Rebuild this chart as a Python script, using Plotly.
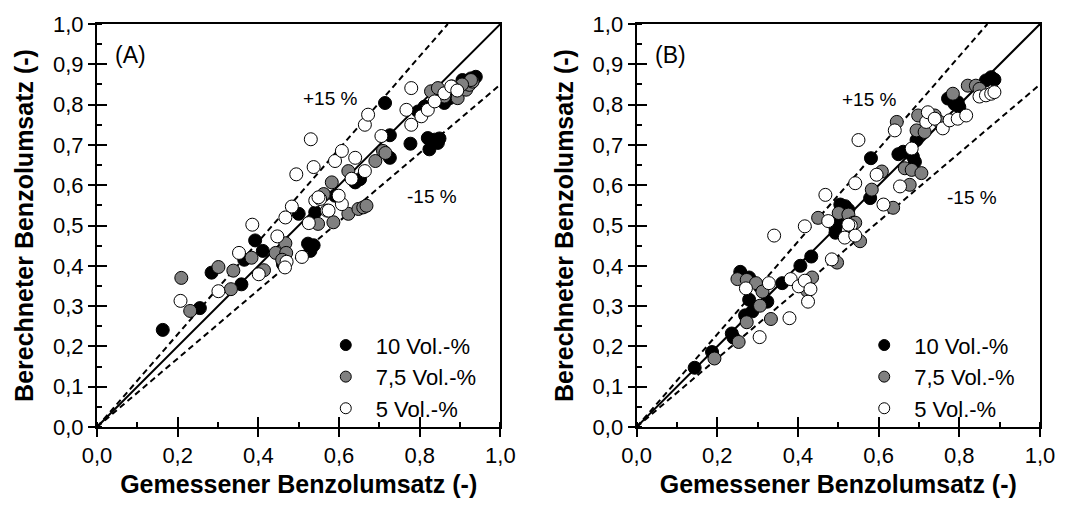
import plotly.graph_objects as go

# ---------------- data ----------------
# Panel A
a10_x = [0.163, 0.255, 0.284, 0.358, 0.365, 0.392, 0.411, 0.461, 0.500, 0.523, 0.537, 0.529, 0.541,
         0.590, 0.640, 0.652, 0.714, 0.726, 0.726, 0.777, 0.796, 0.812, 0.820, 0.837, 0.849, 0.845,
         0.824, 0.861, 0.874, 0.906, 0.927, 0.939, 0.917]
a10_y = [0.241, 0.295, 0.383, 0.354, 0.415, 0.463, 0.437, 0.404, 0.529, 0.455, 0.451, 0.437, 0.533,
         0.574, 0.607, 0.615, 0.804, 0.724, 0.668, 0.703, 0.783, 0.795, 0.717, 0.713, 0.716, 0.705,
         0.689, 0.804, 0.816, 0.861, 0.865, 0.869, 0.858]
a75_x = [0.209, 0.231, 0.301, 0.338, 0.332, 0.383, 0.414, 0.443, 0.467, 0.469, 0.459, 0.548, 0.563,
         0.586, 0.562, 0.582, 0.623, 0.623, 0.648, 0.660, 0.668, 0.690, 0.709, 0.715, 0.828, 0.845,
         0.861, 0.894, 0.915, 0.923, 0.931, 0.927, 0.905, 0.880]
a75_y = [0.370, 0.288, 0.397, 0.388, 0.342, 0.420, 0.389, 0.432, 0.456, 0.432, 0.415, 0.504, 0.576,
         0.508, 0.578, 0.607, 0.635, 0.529, 0.541, 0.545, 0.549, 0.660, 0.685, 0.680, 0.833, 0.841,
         0.820, 0.816, 0.837, 0.849, 0.857, 0.861, 0.850, 0.845]
a5_x = [0.207, 0.301, 0.352, 0.385, 0.401, 0.447, 0.470, 0.466, 0.508, 0.483, 0.467, 0.525, 0.541,
        0.553, 0.570, 0.530, 0.537, 0.494, 0.549, 0.574, 0.607, 0.599, 0.590, 0.607, 0.640, 0.631,
        0.664, 0.664, 0.672, 0.705, 0.767, 0.779, 0.779, 0.804, 0.820, 0.837, 0.861, 0.878, 0.893]
a5_y = [0.313, 0.337, 0.432, 0.502, 0.379, 0.473, 0.410, 0.396, 0.422, 0.547, 0.520, 0.506, 0.562,
        0.566, 0.537, 0.714, 0.645, 0.627, 0.570, 0.537, 0.553, 0.574, 0.660, 0.685, 0.668, 0.616,
        0.635, 0.750, 0.775, 0.722, 0.787, 0.841, 0.750, 0.771, 0.787, 0.808, 0.828, 0.845, 0.835]

# Panel B
b10_x = [0.144, 0.187, 0.236, 0.240, 0.269, 0.287, 0.279, 0.324, 0.257, 0.279, 0.361, 0.406, 0.433,
         0.493, 0.493, 0.497, 0.505, 0.517, 0.525, 0.579, 0.581, 0.649, 0.661, 0.685, 0.690, 0.694,
         0.772, 0.788, 0.800, 0.796, 0.866, 0.879, 0.887]
b10_y = [0.147, 0.186, 0.232, 0.222, 0.277, 0.287, 0.316, 0.311, 0.385, 0.371, 0.357, 0.400, 0.423,
         0.494, 0.482, 0.507, 0.552, 0.548, 0.539, 0.568, 0.667, 0.677, 0.683, 0.671, 0.658, 0.712,
         0.815, 0.802, 0.794, 0.806, 0.860, 0.868, 0.862]
b75_x = [0.193, 0.253, 0.273, 0.306, 0.333, 0.250, 0.273, 0.296, 0.312, 0.423, 0.435, 0.450, 0.497,
         0.501, 0.525, 0.538, 0.542, 0.554, 0.583, 0.608, 0.636, 0.665, 0.682, 0.706, 0.677, 0.645,
         0.694, 0.714, 0.698, 0.739, 0.751, 0.784, 0.821, 0.841, 0.850]
b75_y = [0.170, 0.211, 0.260, 0.301, 0.268, 0.367, 0.365, 0.357, 0.336, 0.338, 0.371, 0.519, 0.408,
         0.531, 0.527, 0.507, 0.507, 0.461, 0.589, 0.634, 0.544, 0.642, 0.638, 0.630, 0.601, 0.757,
         0.736, 0.732, 0.773, 0.773, 0.757, 0.827, 0.847, 0.847, 0.839]
b5_x = [0.271, 0.305, 0.328, 0.341, 0.379, 0.382, 0.402, 0.417, 0.431, 0.425, 0.417, 0.475, 0.484,
        0.516, 0.531, 0.542, 0.525, 0.468, 0.542, 0.550, 0.595, 0.612, 0.653, 0.682, 0.640, 0.718,
        0.722, 0.739, 0.759, 0.776, 0.796, 0.817, 0.850, 0.866, 0.879, 0.887]
b5_y = [0.344, 0.223, 0.357, 0.475, 0.270, 0.367, 0.349, 0.363, 0.342, 0.311, 0.498, 0.511, 0.416,
        0.470, 0.500, 0.475, 0.502, 0.576, 0.605, 0.712, 0.626, 0.552, 0.597, 0.691, 0.736, 0.757,
        0.781, 0.765, 0.741, 0.761, 0.765, 0.773, 0.820, 0.823, 0.827, 0.831]

series_names = ["10 Vol.-%", "7,5 Vol.-%", "5 Vol.-%"]
series_colors = ["#000000", "#808080", "#ffffff"]
line_factors = [1.0, 1.15, 0.85]      # parity line and +/-15 % lines
line_x = [0.0, 1.0]
tick_vals = [0.0, 0.2, 0.4, 0.6, 0.8, 1.0]

FONT = "Liberation Sans, Arial, sans-serif"

fig = go.Figure()

panels = [
    ("x", "y", "legend", [(a10_x, a10_y), (a75_x, a75_y), (a5_x, a5_y)]),
    ("x2", "y2", "legend2", [(b10_x, b10_y), (b75_x, b75_y), (b5_x, b5_y)]),
]

ov = {"x": ("x3", "y3"), "x2": ("x4", "y4")}

for xa, ya, lg, data in panels:
    ox, oy = ov[xa]
    for f in line_factors:
        xs = [min(x, 1.0 / f) for x in line_x]
        ys = [f * x for x in xs]
        fig.add_trace(go.Scatter(
            x=xs, y=ys, mode="lines", xaxis=xa, yaxis=ya, showlegend=False, hoverinfo="skip",
            line=dict(color="black", width=2,
                      dash="solid" if f == 1.0 else "6px,4px")))
    for (sx, sy), name, col in zip(data, series_names, series_colors):
        fig.add_trace(go.Scatter(
            x=sx, y=sy, mode="markers", name=name, xaxis=xa, yaxis=ya, showlegend=False,
            marker=dict(size=13, color=col, line=dict(color="black", width=1))))
    # legend entries (smaller symbols, as in the original legend)
    for name, col in zip(series_names, series_colors):
        fig.add_trace(go.Scatter(
            x=[None], y=[None], mode="markers", name=name, xaxis=xa, yaxis=ya, legend=lg,
            marker=dict(size=11, color=col, line=dict(color="black", width=1))))
    # invisible trace on overlay axes so that they are drawn
    fig.add_trace(go.Scatter(x=[0.5], y=[0.5], mode="markers", xaxis=ox, yaxis=oy,
                             showlegend=False, hoverinfo="skip",
                             marker=dict(size=1, opacity=0)))

dom_a = [0.0, 0.4278]
dom_b = [0.5722, 1.0]

def xax(domain, anchor, **kw):
    d = dict(domain=domain, anchor=anchor, range=[0, 1], tickvals=tick_vals, tickformat=".1f",
             ticks="outside", ticklen=8, tickwidth=1.5, tickcolor="black",
             minor=dict(ticks="inside", dtick=0.1, ticklen=5, tickwidth=1.5, tickcolor="black"),
             showline=True, linecolor="black", linewidth=2, mirror=True,
             showgrid=False, zeroline=False,
             tickfont=dict(size=22, family=FONT, color="black"),
             title=dict(text="<b>Gemessener Benzolumsatz (-)</b>",
                        font=dict(size=25, family=FONT, color="black"), standoff=8))
    d.update(kw)
    return d

def yax(anchor, **kw):
    d = dict(domain=[0, 1], anchor=anchor, range=[0, 1], dtick=0.1, tick0=0, tickformat=".1f",
             ticks="outside", ticklen=7, tickwidth=1.5, tickcolor="black",
             minor=dict(ticks="inside", dtick=0.05, ticklen=5, tickwidth=1.5, tickcolor="black"),
             showline=True, linecolor="black", linewidth=2, mirror=True,
             showgrid=False, zeroline=False,
             tickfont=dict(size=22, family=FONT, color="black"),
             title=dict(text="<b>Berechneter Benzolumsatz (-)</b>",
                        font=dict(size=25, family=FONT, color="black"), standoff=12))
    d.update(kw)
    return d

def ovx(over, anchor):
    return dict(overlaying=over, anchor=anchor, range=[0, 1], tickvals=tick_vals,
                ticks="inside", ticklen=10, tickwidth=1.5, tickcolor="black",
                showticklabels=False, showline=False, showgrid=False, zeroline=False)

def ovy(over, anchor):
    return dict(overlaying=over, anchor=anchor, range=[0, 1], dtick=0.1, tick0=0,
                ticks="inside", ticklen=10, tickwidth=1.5, tickcolor="black",
                showticklabels=False, showline=False, showgrid=False, zeroline=False)

legend_common = dict(font=dict(size=22, family=FONT, color="black"), bgcolor="rgba(0,0,0,0)",
                     borderwidth=0, yanchor="top", xanchor="left", itemwidth=50,
                     tracegroupgap=0)

def ann(text, xref, yref, x, y, size=19):
    return dict(text=text, xref=xref, yref=yref, x=x, y=y, xanchor="left", yanchor="middle",
                showarrow=False, font=dict(size=size, family=FONT, color="black"))

fig.update_layout(
    width=1067, height=506,
    margin=dict(l=97, r=21, t=23, b=77),
    paper_bgcolor="white", plot_bgcolor="white",
    separators=",.",
    font=dict(family=FONT, color="black"),
    xaxis=xax(dom_a, "y"),
    yaxis=yax("x"),
    xaxis2=xax(dom_b, "y2"),
    yaxis2=yax("x2"),
    xaxis3=ovx("x", "y"),
    yaxis3=ovy("y", "x"),
    xaxis4=ovx("x2", "y2"),
    yaxis4=ovy("y2", "x2"),
    legend=dict(x=0.232, y=0.255, **legend_common),
    legend2=dict(x=0.803, y=0.255, **legend_common),
    annotations=[
        ann("(A)", "x", "y", 0.040, 0.922, 23),
        ann("+15 %", "x", "y", 0.505, 0.814),
        ann("-15 %", "x", "y", 0.763, 0.571),
        ann("(B)", "x2", "y2", 0.040, 0.922, 23),
        ann("+15 %", "x2", "y2", 0.505, 0.812),
        ann("-15 %", "x2", "y2", 0.764, 0.569),
    ],
)

fig.write_html("out.html")
